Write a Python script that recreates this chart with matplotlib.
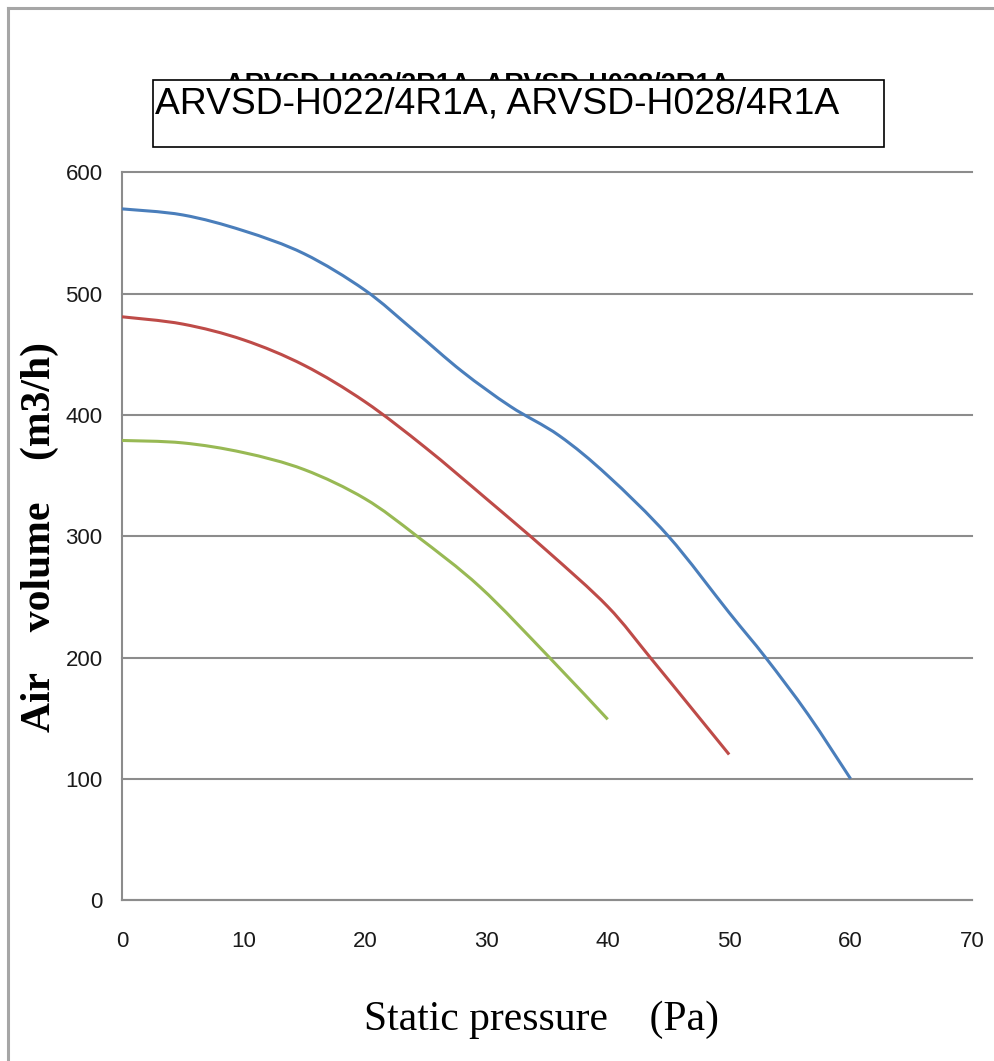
import matplotlib
matplotlib.use("Agg")
import matplotlib.pyplot as plt
from matplotlib import font_manager as fm
from matplotlib.patches import Rectangle, PathPatch
from matplotlib.path import Path
from matplotlib.lines import Line2D

# Fan performance curves: static pressure (Pa) vs air volume (m3/h)
pressure_high = [0, 5, 10, 15, 20, 24, 28, 32, 36, 40, 45, 50, 53, 56.5, 60]
volume_high = [570, 565, 552, 533, 503, 470, 436, 407, 383, 350, 300, 237, 200, 153, 100]

pressure_mid = [0, 5, 10, 15, 20, 25, 30, 35, 40, 43.5, 47, 50]
volume_mid = [481, 475, 462, 441, 411, 373, 331, 288, 242, 200, 157, 120]

pressure_low = [0, 5, 10, 15, 20, 24.3, 29.5, 35.2, 40]
volume_low = [379, 377, 369, 355, 331, 300, 258, 200, 149]

x_ticks = [0, 10, 20, 30, 40, 50, 60, 70]
y_ticks = [0, 100, 200, 300, 400, 500, 600]

title_front = "ARVSD-H022/4R1A, ARVSD-H028/4R1A"
title_back = "ARVSD-H022/2R1A, ARVSD-H028/2R1A"

installed = {f.name for f in fm.fontManager.ttflist}


def pick(*names):
    for n in names:
        if n in installed:
            return n
    return "DejaVu Sans"


tick_font = pick("Liberation Sans Narrow", "DejaVu Sans Condensed", "Liberation Sans")
serif_font = pick("Liberation Serif", "DejaVu Serif")
sans_font = pick("Liberation Sans", "Arimo", "DejaVu Sans")


def smooth_path(xs, ys, tension=1 / 6):
    """Bezier path through the points (Catmull-Rom style smoothed line)."""
    n = len(xs)
    verts = [(xs[0], ys[0])]
    codes = [Path.MOVETO]
    for i in range(n - 1):
        x0, y0 = (xs[i - 1], ys[i - 1]) if i > 0 else (xs[i], ys[i])
        x1, y1 = xs[i], ys[i]
        x2, y2 = xs[i + 1], ys[i + 1]
        x3, y3 = (xs[i + 2], ys[i + 2]) if i + 2 < n else (x2, y2)
        c1 = (x1 + (x2 - x0) * tension, y1 + (y2 - y0) * tension)
        c2 = (x2 - (x3 - x1) * tension, y2 - (y3 - y1) * tension)
        verts += [c1, c2, (x2, y2)]
        codes += [Path.CURVE4] * 3
    return Path(verts, codes)


W, H = 994, 1061
fig = plt.figure(figsize=(W / 100, H / 100), dpi=100)
fig.patch.set_facecolor("white")

# outer frame (left and top edges)
frame_kw = dict(color="#a6a6a6", lw=2.2, transform=fig.transFigure)
fig.add_artist(Line2D([8 / W, 8 / W], [0, 1 - 8 / H], **frame_kw))
fig.add_artist(Line2D([8 / W, 1], [1 - 8 / H, 1 - 8 / H], **frame_kw))

ax_left, ax_right, ax_top, ax_bottom = 122, 972, 172.5, 900
ax = fig.add_axes([ax_left / W, 1 - ax_bottom / H,
                   (ax_right - ax_left) / W, (ax_bottom - ax_top) / H])

for xs, ys, col in ((pressure_high, volume_high, "#4A7EBB"),
                    (pressure_mid, volume_mid, "#BE4B48"),
                    (pressure_low, volume_low, "#98B954")):
    ax.add_patch(PathPatch(smooth_path(xs, ys), facecolor="none", edgecolor=col,
                           lw=2.2, capstyle="butt", zorder=3))

ax.set_xlim(0, 70)
ax.set_ylim(0, 600)
ax.set_xticks(x_ticks)
ax.set_yticks(y_ticks)
ax.yaxis.grid(True, color="#8c8c8c", lw=1.5)
for gl in ax.yaxis.get_gridlines():
    gl.set_clip_on(False)
ax.set_axisbelow(True)
for side in ("top", "right"):
    ax.spines[side].set_visible(False)
for side in ("left", "bottom"):
    ax.spines[side].set_color("#8c8c8c")
    ax.spines[side].set_linewidth(1.5)
ax.tick_params(length=0)
ax.tick_params(axis="y", pad=14)
ax.tick_params(axis="x", pad=22)
for lab in ax.get_xticklabels() + ax.get_yticklabels():
    lab.set_fontfamily(tick_font)
    lab.set_fontsize(16)
    lab.set_color("#1a1a1a")

# axis titles
fig.text(542 / W, 1 - 1020 / H, "Static pressure    (Pa)", family=serif_font,
         fontsize=30, ha="center", va="center", color="black")
fig.text(40 / W, 1 - 537 / H, "Air    volume    (m3/h)", family=serif_font,
         fontsize=30, fontweight="bold", rotation=90, ha="center", va="center",
         color="black")

# chart title: older caption underneath the boxed one
fig.text(478 / W, 1 - 71 / H, title_back, family=sans_font, fontsize=19.5,
         fontweight="bold", ha="center", va="top", color="black", zorder=1)
box = Rectangle((153 / W, 1 - 147 / H), (884 - 153) / W, (147 - 80) / H,
                transform=fig.transFigure, facecolor="white", edgecolor="black",
                lw=1.2, zorder=2)
fig.add_artist(box)
fig.text(155 / W, 1 - 114 / H, title_front, family=sans_font, fontsize=26.8,
         ha="left", va="baseline", color="black", zorder=3)

fig.savefig("out.png", dpi=100, facecolor="white")
